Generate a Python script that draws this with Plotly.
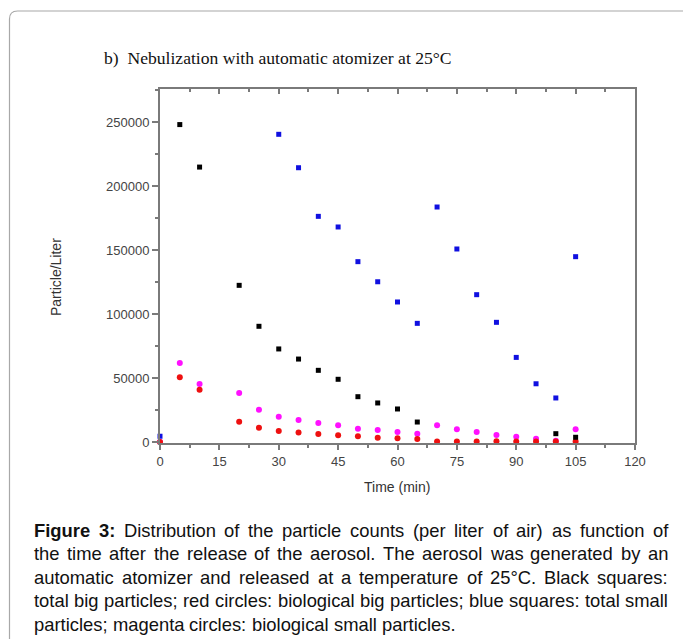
import plotly.graph_objects as go

# ---------------- data ----------------
black_t = [5, 10, 20, 25, 30, 35, 40, 45, 50, 55, 60, 65, 100, 105]
black_v = [248000, 214800, 122400, 90400, 72700, 64800, 56000, 49000, 35400, 30500, 25800, 15600, 6500, 3700]

red_t = [0, 5, 10, 20, 25, 30, 35, 40, 45, 50, 55, 60, 65, 70, 75, 80, 85, 90, 95, 100, 105]
red_v = [0, 50500, 40900, 15900, 11200, 8600, 7500, 6300, 5200, 4400, 3400, 2900, 2300, 400, 400, 400, 600, 300, 300, 300, 300]

blue_t = [0, 30, 35, 40, 45, 50, 55, 60, 65, 70, 75, 80, 85, 90, 95, 100, 105]
blue_v = [4500, 240400, 214300, 176300, 168000, 140900, 125200, 109400, 92700, 183600, 150800, 115100, 93500, 66100, 45500, 34400, 144800]

mag_t = [0, 5, 10, 20, 25, 30, 35, 40, 45, 50, 55, 60, 65, 70, 75, 80, 85, 90, 95, 100, 105]
mag_v = [0, 61700, 45300, 38300, 25200, 19800, 17200, 14800, 13000, 10400, 9400, 7800, 6500, 13000, 9900, 7800, 5500, 4200, 2600, 1000, 9900]

title_text = "b)\u00a0 Nebulization with automatic atomizer at 25°C"
x_title = "Time (min)"
y_title = "Particle/Liter"
caption_lines = [
    "Figure 3: Distribution of the particle counts (per liter of air) as function of",
    "the time after the release of the aerosol. The aerosol was generated by an",
    "automatic atomizer and released at a temperature of 25°C. Black squares:",
    "total big particles; red circles: biological big particles; blue squares: total small",
    "particles; magenta circles: biological small particles.",
]
bold_words = 2  # "Figure 3:"

# ---------------- layout geometry (pixels) ----------------
W, H = 683, 639
PL, PR, PT, PB = 160, 635, 89, 443


def px(x):
    return (x - PL) / (PR - PL)


def py(y):
    return (PB - y) / (PB - PT)


AX = "#7a7a7a"
fig = go.Figure()

fig.add_trace(go.Scatter(x=mag_t, y=mag_v, mode="markers", cliponaxis=False,
                         marker=dict(symbol="circle", size=6, color="#ff10ff")))
fig.add_trace(go.Scatter(x=red_t, y=red_v, mode="markers", cliponaxis=False,
                         marker=dict(symbol="circle", size=6, color="#ee1010")))
fig.add_trace(go.Scatter(x=black_t, y=black_v, mode="markers", cliponaxis=False,
                         marker=dict(symbol="square", size=5, color="#000000")))
fig.add_trace(go.Scatter(x=blue_t, y=blue_v, mode="markers", cliponaxis=False,
                         marker=dict(symbol="square", size=5, color="#1010e0")))
# invisible trace to activate top axis
fig.add_trace(go.Scatter(x=[0], y=[0], xaxis="x2", mode="markers",
                         marker=dict(opacity=0), hoverinfo="skip"))

tickfont = dict(family="Liberation Sans, Arial, sans-serif", size=13, color="#444444")
xr = [0, 120]
yr = [-780, 275800]

fig.update_layout(
    width=W, height=H,
    margin=dict(l=PL, r=W - PR, t=PT, b=H - PB, pad=0),
    paper_bgcolor="white", plot_bgcolor="white",
    showlegend=False,
    xaxis=dict(range=xr, showgrid=False, zeroline=False, showline=True, linecolor=AX, linewidth=2,
               ticks="outside", ticklen=5, tickwidth=1.5, tickcolor=AX, tick0=0, dtick=15,
               minor=dict(dtick=7.5, ticklen=3, ticks="outside", tickcolor=AX, tickwidth=1.5),
               tickfont=tickfont),
    xaxis2=dict(range=xr, overlaying="x", side="top", showgrid=False, zeroline=False, showline=True,
                linecolor=AX, linewidth=2, ticks="inside", ticklen=5, tickwidth=1.5, tickcolor=AX,
                tick0=0, dtick=15, showticklabels=False,
                minor=dict(dtick=7.5, ticklen=3, ticks="inside", tickcolor=AX, tickwidth=1.5)),
    yaxis=dict(range=yr, showgrid=False, zeroline=False, showline=True, mirror=True, linecolor=AX,
               linewidth=2, ticks="outside", ticklen=6, tickwidth=1.5, tickcolor=AX, tick0=0,
               dtick=50000, tickformat="d",
               minor=dict(dtick=25000, ticklen=3, ticks="outside", tickcolor=AX, tickwidth=1.5),
               tickfont=tickfont),
)

annotations = []
# title
annotations.append(dict(text=title_text, x=px(102), y=py(58), xref="paper", yref="paper",
                        xanchor="left", yanchor="middle", showarrow=False,
                        font=dict(family="Liberation Serif, Times New Roman, serif", size=17.6,
                                  color="#111111")))
# axis titles
annotations.append(dict(text=x_title, x=px(397), y=py(487), xref="paper", yref="paper",
                        xanchor="center", yanchor="middle", showarrow=False,
                        font=dict(family="Liberation Sans, Arial, sans-serif", size=14, color="#333333")))
annotations.append(dict(text=y_title, x=px(56), y=py(277), xref="paper", yref="paper",
                        xanchor="center", yanchor="middle", showarrow=False, textangle=-90,
                        font=dict(family="Liberation Sans, Arial, sans-serif", size=14, color="#333333")))

# caption, justified word by word using Arial (Liberation Sans) metrics
REG = {' ': 278, '(': 333, ')': 333, ',': 278, '.': 278, ':': 278, ';': 278, '°': 400,
       'A': 667, 'B': 667, 'C': 722, 'D': 722, 'E': 667, 'F': 611, 'T': 611,
       'a': 556, 'b': 556, 'c': 500, 'd': 556, 'e': 556, 'f': 278, 'g': 556, 'h': 556, 'i': 222,
       'j': 222, 'k': 500, 'l': 222, 'm': 833, 'n': 556, 'o': 556, 'p': 556, 'q': 556, 'r': 333,
       's': 500, 't': 278, 'u': 556, 'v': 500, 'w': 722, 'x': 500, 'y': 500, 'z': 500}
BOLD = {'F': 611, 'i': 278, 'g': 611, 'u': 611, 'r': 389, 'e': 556, '3': 556, ':': 333}
FS = 18.4
CX0, CX1 = 33, 667
line_y = [530, 553.5, 577, 600.5, 624]


def wwidth(word, bold):
    tbl = BOLD if bold else REG
    return sum(tbl.get(ch, REG.get(ch, 556)) for ch in word) * FS / 1000.0


for li, line in enumerate(caption_lines):
    words = line.split(" ")
    bolds = [(li == 0 and i < bold_words) for i in range(len(words))]
    widths = [wwidth(w, b) for w, b in zip(words, bolds)]
    if li < len(caption_lines) - 1:
        gap = (CX1 - CX0 - sum(widths)) / (len(words) - 1)
    else:
        gap = 278 * FS / 1000.0
    x = CX0
    for w, b, wd in zip(words, bolds, widths):
        annotations.append(dict(text=("<b>%s</b>" % w) if b else w, x=px(x - 1), y=py(line_y[li]),
                                xref="paper", yref="paper", xanchor="left", yanchor="middle",
                                showarrow=False,
                                font=dict(family="Liberation Sans, Arial, sans-serif", size=FS,
                                          color="#111111")))
        x += wd + gap

fig.update_layout(annotations=annotations)

# outer rounded frame (only top and left edges visible)
r = 8
path = "M %f,%f L %f,%f Q %f,%f %f,%f L %f,%f" % (
    px(9.5), py(660), px(9.5), py(11 + r), px(9.5), py(11), px(9.5 + r), py(11), px(700), py(11))
fig.add_shape(type="path", path=path, xref="paper", yref="paper",
              line=dict(color="#a8a8a8", width=1.2))

fig.write_html("out.html")
